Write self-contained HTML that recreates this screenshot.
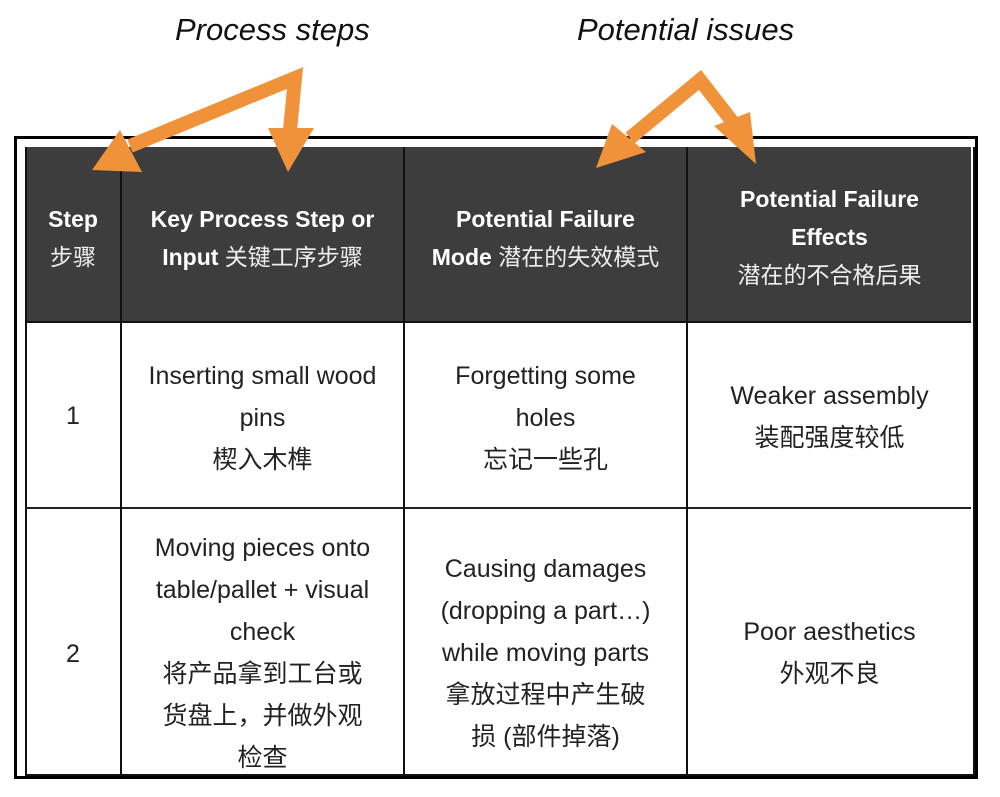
<!DOCTYPE html>
<html><head><meta charset="utf-8"><style>
body{margin:0;width:1000px;height:797px;background:#fff;position:relative;overflow:hidden;font-family:"Liberation Sans","Noto Sans CJK SC",sans-serif}
.a{position:absolute}
.t{position:absolute;text-align:center;color:#222;font-size:25px;line-height:42px}
.h{position:absolute;text-align:center;color:#fff;font-weight:bold;font-size:23px;line-height:38px}
.hz{font-weight:normal;color:#eee}
</style></head><body>
<div class="a" style="left:175px;top:12px;font-size:31px;font-style:italic;color:#111">Process steps</div>
<div class="a" style="left:577px;top:12px;font-size:31px;font-style:italic;color:#111">Potential issues</div>

<div class="a" style="left:14px;top:136px;width:958px;height:637px;border:3px solid #000"></div>
<div class="a" style="left:26px;top:147px;width:945px;height:175px;background:#3d3d3d"></div>
<div class="a" style="left:25px;top:147px;width:946px;height:627px;border:2px solid #111;border-top:none"></div>
<div class="a" style="left:26px;top:321px;width:945px;height:2px;background:#111"></div>
<div class="a" style="left:26px;top:507px;width:945px;height:2px;background:#222"></div>
<div class="a" style="left:120px;top:147px;width:2px;height:628px;background:#111"></div>
<div class="a" style="left:403px;top:147px;width:2px;height:628px;background:#111"></div>
<div class="a" style="left:686px;top:147px;width:2px;height:628px;background:#111"></div>

<div class="h" style="left:26px;top:200px;width:94px">Step<br><span class="hz">步骤</span></div>
<div class="h" style="left:122px;top:200px;width:281px">Key Process Step or<br>Input <span class="hz">关键工序步骤</span></div>
<div class="h" style="left:405px;top:200px;width:281px">Potential Failure<br>Mode <span class="hz">潜在的失效模式</span></div>
<div class="h" style="left:688px;top:180px;width:283px">Potential Failure<br>Effects<br><span class="hz">潜在的不合格后果</span></div>

<div class="t" style="left:26px;top:395px;width:94px">1</div>
<div class="t" style="left:122px;top:355px;width:281px">Inserting small wood<br>pins<br>楔入木榫</div>
<div class="t" style="left:405px;top:355px;width:281px">Forgetting some<br>holes<br>忘记一些孔</div>
<div class="t" style="left:688px;top:375px;width:283px">Weaker assembly<br>装配强度较低</div>

<div class="t" style="left:26px;top:633px;width:94px">2</div>
<div class="t" style="left:130px;top:527px;width:265px">Moving pieces onto<br>table/pallet + visual<br>check<br>将产品拿到工台或<br>货盘上，并做外观<br>检查</div>
<div class="t" style="left:405px;top:548px;width:281px">Causing damages<br>(dropping a part…)<br>while moving parts<br>拿放过程中产生破<br>损 (部件掉落)</div>
<div class="t" style="left:688px;top:611px;width:283px">Poor aesthetics<br>外观不良</div>

<svg class="a" style="left:0;top:0" width="1000" height="200">
<g fill="none" stroke="#f0923a" stroke-width="14" stroke-linejoin="miter">
<polyline points="130,146 295,78 290,130"/>
<polyline points="630,138 700,80 735,125"/>
</g>
<g fill="#f0923a">
<polygon points="92,170 120,130 142,172"/>
<polygon points="268,128 314,128 288,172"/>
<polygon points="596,168 612,124 646,152"/>
<polygon points="714,126 750,112 756,164"/>
</g>
</svg>
</body></html>
